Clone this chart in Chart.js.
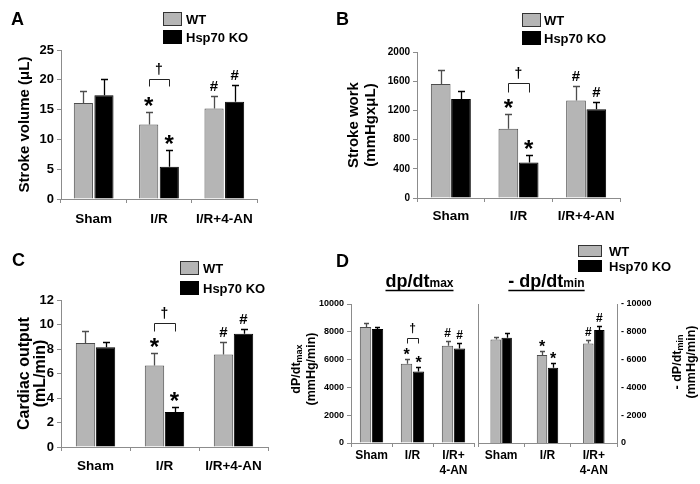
<!DOCTYPE html>
<html><head><meta charset="utf-8">
<script src="https://cdn.jsdelivr.net/npm/chart.js@4.4.1/dist/chart.umd.min.js"></script>
<style>
html,body{margin:0;padding:0;background:#fff;}
#wrap{position:relative;width:700px;height:484px;overflow:hidden;background:#fff;}
canvas{position:absolute;left:0;top:0;}
</style></head><body>
<div id="wrap">
<canvas id="cA" width="700" height="484"></canvas>
<canvas id="cB" width="700" height="484"></canvas>
<canvas id="cC" width="700" height="484"></canvas>
<canvas id="cD1" width="700" height="484"></canvas>
<canvas id="cD2" width="700" height="484"></canvas>
</div>
<script>
// ---------- DATA ----------
const CATEGORIES = ['Sham', 'I/R', 'I/R+4-AN'];
const CATEGORIES_D = ['Sham', 'I/R', ['I/R+', '4-AN']];
const SERIES = ['WT', 'Hsp70 KO'];

// A: Stroke volume (uL)
const A_WT = [16.1, 12.5, 15.2];
const A_WT_ERR = [2.0, 2.1, 2.0];
const A_KO = [17.4, 5.4, 16.3];
const A_KO_ERR = [2.7, 2.8, 2.9];
const A_TICKS = [0, 5, 10, 15, 20, 25];

// B: Stroke work (mmHg x uL)
const B_WT = [1560, 950, 1335];
const B_WT_ERR = [195, 200, 205];
const B_KO = [1355, 485, 1215];
const B_KO_ERR = [105, 110, 100];
const B_TICKS = [0, 400, 800, 1200, 1600, 2000];

// C: Cardiac output (mL/min)
const C_WT = [8.5, 6.65, 7.55];
const C_WT_ERR = [1.0, 1.05, 1.0];
const C_KO = [8.15, 2.85, 9.25];
const C_KO_ERR = [0.4, 0.45, 0.4];
const C_TICKS = [0, 2, 4, 6, 8, 10, 12];

// D: dP/dt max and -dP/dt min (mmHg/min)
const DMAX_WT = [8350, 5700, 7000];
const DMAX_WT_ERR = [280, 330, 320];
const DMAX_KO = [8200, 5150, 6800];
const DMAX_KO_ERR = [150, 350, 380];
const DMIN_WT = [7450, 6330, 7150];
const DMIN_WT_ERR = [200, 300, 280];
const DMIN_KO = [7580, 5420, 8130];
const DMIN_KO_ERR = [330, 360, 260];
const D_TICKS = [0, 2000, 4000, 6000, 8000, 10000];
const D_RIGHT_TICK_LABELS = ['0', '- 2000', '- 4000', '- 6000', '- 8000', '- 10000'];

// significance marks
const MARKS_WT = ['', '*', '#'];
const MARKS_KO = ['', '*', '#'];

// ---------- STYLE ----------
const FONT = '"Liberation Sans", Arial, Helvetica, sans-serif';
const WT_FILL = '#b5b5b5', WT_EDGE = '#4d4d4d', KO_FILL = '#000000';
const AXIS = '#8c8c8c';
const f = (s) => `bold ${s}px ${FONT}`;

function drawParts(ctx, parts, x, y, rot, base) {
  ctx.save();
  ctx.translate(x, y);
  ctx.rotate(rot);
  let total = 0;
  parts.forEach(p => { ctx.font = f(p.size); p.w = ctx.measureText(p.t).width; total += p.w; });
  let cx = -total / 2;
  ctx.textAlign = 'left';
  ctx.textBaseline = base || 'middle';
  ctx.fillStyle = '#000';
  parts.forEach(p => { ctx.font = f(p.size); ctx.fillText(p.t, cx, p.dy || 0); cx += p.w; });
  ctx.restore();
  return total;
}

function decoPlugin(o) {
  return {
    id: 'deco',
    afterDatasetsDraw(chart) {
      const ctx = chart.ctx;
      const ys = chart.scales.y;
      const errs = [o.wtErr, o.koErr];
      const caps = [[], []];
      ctx.save();
      errs.forEach((errArr, di) => {
        const meta = chart.getDatasetMeta(di);
        meta.data.forEach((bar, i) => {
          const v = chart.data.datasets[di].data[i];
          const yTop = ys.getPixelForValue(v + errArr[i]);
          caps[di][i] = {x: bar.x, y: yTop};
          const x = Math.round(bar.x) + 0.5;
          ctx.strokeStyle = di === 0 ? WT_EDGE : '#000';
          ctx.lineWidth = 1.3;
          ctx.beginPath();
          ctx.moveTo(x, bar.y);
          ctx.lineTo(x, Math.round(yTop) + 0.5);
          ctx.moveTo(x - o.capW, Math.round(yTop) + 0.5);
          ctx.lineTo(x + o.capW, Math.round(yTop) + 0.5);
          ctx.stroke();
        });
      });
      // significance marks
      ctx.fillStyle = '#000';
      ctx.textAlign = 'center';
      ctx.textBaseline = 'alphabetic';
      [MARKS_WT, MARKS_KO].forEach((marks, di) => {
        marks.forEach((m, i) => {
          if (!m) return;
          const c = caps[di][i];
          if (m === '*') { ctx.font = f(o.starSize); ctx.fillText('*', c.x, c.y + o.starOff); }
          else { ctx.font = f(o.hashSize); ctx.fillText('#', c.x, c.y - o.hashOff); }
        });
      });
      // bracket with dagger
      if (o.bracket) {
        const a = caps[0][1], b = caps[1][1];
        const by = Math.round(a.y - o.bracketGap) + 0.5;
        ctx.strokeStyle = '#222';
        ctx.lineWidth = 1;
        ctx.beginPath();
        ctx.moveTo(Math.round(a.x) + 0.5, by + o.bracketTick);
        ctx.lineTo(Math.round(a.x) + 0.5, by);
        ctx.lineTo(Math.round(b.x) + 0.5, by);
        ctx.lineTo(Math.round(b.x) + 0.5, by + o.bracketTick);
        ctx.stroke();
        ctx.font = f(o.daggerSize);
        ctx.fillText('\u2020', (a.x + b.x) / 2, by - o.daggerOff);
      }
      // legend
      if (o.legend) {
        const L = o.legend;
        chart.data.datasets.forEach((ds, di) => {
          const y0 = L.y + di * L.step;
          ctx.fillStyle = ds.backgroundColor;
          ctx.fillRect(L.x, y0, L.w, L.h);
          ctx.strokeStyle = di === 0 ? '#333' : '#000';
          ctx.lineWidth = 1;
          ctx.strokeRect(L.x + 0.5, y0 + 0.5, L.w - 1, L.h - 1);
          ctx.fillStyle = '#000';
          ctx.font = f(L.font);
          ctx.textAlign = 'left';
          ctx.textBaseline = 'middle';
          ctx.fillText(ds.label, L.tx, y0 + L.h / 2 + 1);
        });
      }
      // panel letter
      if (o.letter) {
        ctx.fillStyle = '#000';
        ctx.font = f(18);
        ctx.textAlign = 'left';
        ctx.textBaseline = 'middle';
        ctx.fillText(o.letter.t, o.letter.x, o.letter.y);
      }
      if (o.extra) o.extra(ctx, chart);
      ctx.restore();
    }
  };
}

function makePanel(id, o) {
  const ticksArr = o.ticks;
  const datasets = [
    {label: SERIES[0], data: o.wt, backgroundColor: WT_FILL, borderColor: WT_EDGE, borderWidth: 1,
     categoryPercentage: o.cat, barPercentage: o.bar, yAxisID: 'y'},
    {label: SERIES[1], data: o.ko, backgroundColor: KO_FILL, borderColor: '#000', borderWidth: 1,
     categoryPercentage: o.cat, barPercentage: o.bar, yAxisID: 'y'}
  ];
  const right = o.yPos === 'right';
  const scales = {
    x: {
      type: 'category',
      offset: true,
      grid: {display: true, drawOnChartArea: false, offset: true, tickLength: 4, color: AXIS, lineWidth: 1},
      border: {display: true, color: AXIS, width: 1},
      ticks: {font: {family: FONT, size: o.xFont, weight: 'bold', lineHeight: o.xLH || 1.2}, color: '#000',
              padding: o.xPad, maxRotation: 0, minRotation: 0, autoSkip: false},
      afterFit: s => { s.height = 484 - o.plot.b; }
    },
    y: {
      position: right ? 'right' : 'left',
      min: ticksArr[0], max: ticksArr[ticksArr.length - 1],
      afterBuildTicks: s => { s.ticks = ticksArr.map(v => ({value: v})); },
      ticks: {font: {family: FONT, size: o.yFont, weight: 'bold'}, color: '#000', padding: right ? 4 : 3,
              callback: (v) => o.tickLabels ? o.tickLabels[ticksArr.indexOf(v)] : String(v)},
      grid: right ? {display: false, drawTicks: false, tickLength: 0, drawOnChartArea: false}
                  : {display: true, drawOnChartArea: false, tickLength: 4, color: AXIS},
      border: {display: true, color: AXIS, width: 1},
      title: o.title ? {display: true, text: o.title, color: '#000',
              font: {family: FONT, size: o.titleSize, weight: 'bold', lineHeight: o.titleLH},
              padding: {top: o.titlePad, bottom: 0}} : {display: false},
      afterFit: s => { s.width = o.yW; }
    }
  };
  if (right) {
    scales.yl = {
      position: 'left', min: 0, max: 1, display: true,
      ticks: {display: false}, grid: {display: false, drawTicks: false},
      border: {display: true, color: AXIS, width: 1},
      afterFit: s => { s.width = 0; }
    };
  }
  const padding = right
    ? {left: o.plot.l, right: 700 - o.plot.r - o.yW, top: o.plot.t, bottom: 0}
    : {left: o.plot.l - o.yW, right: 700 - o.plot.r, top: o.plot.t, bottom: 0};
  return new Chart(document.getElementById(id), {
    type: 'bar',
    data: {labels: o.labels, datasets},
    options: {
      responsive: false, animation: false, devicePixelRatio: 1, events: [],
      layout: {padding},
      plugins: {legend: {display: false}, tooltip: {enabled: false}},
      scales
    },
    plugins: [decoPlugin(o)]
  });
}

const bigMarks = {starSize: 24, starOff: 2, hashSize: 15, hashOff: 5, daggerSize: 14, daggerOff: 6, capW: 3.5};

makePanel('cA', Object.assign({}, bigMarks, {
  labels: CATEGORIES, wt: A_WT, ko: A_KO, wtErr: A_WT_ERR, koErr: A_KO_ERR, ticks: A_TICKS,
  plot: {l: 61, t: 50, r: 257, b: 199}, yW: 61, yFont: 13, xFont: 13.5, xPad: 8,
  cat: 0.63, bar: 0.93,
  title: 'Stroke volume (\u03bcL)', titleSize: 15, titleLH: 1, titlePad: 17,
  bracket: true, bracketGap: 33, bracketTick: 7,
  legend: {x: 163, y: 12, step: 18, w: 19, h: 14, tx: 186, font: 13},
  letter: {t: 'A', x: 11, y: 20}
}));

makePanel('cB', Object.assign({}, bigMarks, {
  labels: CATEGORIES, wt: B_WT, ko: B_KO, wtErr: B_WT_ERR, koErr: B_KO_ERR, ticks: B_TICKS,
  plot: {l: 417, t: 52, r: 620, b: 198}, yW: 87, yFont: 10, xFont: 13.5, xPad: 6,
  cat: 0.6, bar: 0.97,
  title: ['Stroke work', '(mmHgx\u03bcL)'], titleSize: 15, titleLH: 1.15, titlePad: 15,
  bracket: true, bracketGap: 31, bracketTick: 9,
  legend: {x: 522, y: 13, step: 18, w: 19, h: 14, tx: 544, font: 13},
  letter: {t: 'B', x: 336, y: 20}
}));

makePanel('cC', Object.assign({}, bigMarks, {
  labels: CATEGORIES, wt: C_WT, ko: C_KO, wtErr: C_WT_ERR, koErr: C_KO_ERR, ticks: C_TICKS,
  plot: {l: 61, t: 300, r: 268, b: 447}, yW: 61, yFont: 13, xFont: 13.5, xPad: 7,
  cat: 0.58, bar: 0.97,
  title: ['Cardiac output', '(mL/min)'], titleSize: 16, titleLH: 1, titlePad: 17,
  bracket: true, bracketGap: 30, bracketTick: 8,
  legend: {x: 180, y: 261, step: 20, w: 19, h: 14, tx: 203, font: 13},
  letter: {t: 'C', x: 12, y: 261}
}));

const smallMarks = {starSize: 16, starOff: 1, hashSize: 12, hashOff: 4, daggerSize: 12, daggerOff: 7, capW: 2.5};

makePanel('cD1', Object.assign({}, smallMarks, {
  labels: CATEGORIES_D, wt: DMAX_WT, ko: DMAX_KO, wtErr: DMAX_WT_ERR, koErr: DMAX_KO_ERR, ticks: D_TICKS,
  plot: {l: 351, t: 304, r: 474, b: 443}, yW: 351, yFont: 9, xFont: 12, xLH: 1.25, xPad: 1,
  cat: 0.585, bar: 0.95,
  bracket: true, bracketGap: 21, bracketTick: 5,
  legend: {x: 578, y: 245, step: 15, w: 24, h: 12, tx: 609, font: 13},
  letter: {t: 'D', x: 336, y: 262},
  extra: (ctx) => {
    // panel sub-titles
    const t1 = drawParts(ctx, [{t: 'dp/dt', size: 18}, {t: 'max', size: 12}], 419.5, 287, 0, 'alphabetic');
    const t2 = drawParts(ctx, [{t: '- dp/dt', size: 18}, {t: 'min', size: 12}], 546.5, 287, 0, 'alphabetic');
    ctx.strokeStyle = '#000'; ctx.lineWidth = 1.5;
    ctx.beginPath();
    ctx.moveTo(419.5 - t1 / 2, 290.5); ctx.lineTo(419.5 + t1 / 2, 290.5);
    ctx.moveTo(546.5 - t2 / 2, 290.5); ctx.lineTo(546.5 + t2 / 2, 290.5);
    ctx.stroke();
    // left axis title
    drawParts(ctx, [{t: 'dP/dt', size: 12.5}, {t: 'max', size: 9, dy: 3}], 297, 369, -Math.PI / 2);
    drawParts(ctx, [{t: '(mmHg/min)', size: 12.5}], 312, 369, -Math.PI / 2);
  }
}));

makePanel('cD2', Object.assign({}, smallMarks, {
  labels: CATEGORIES_D, wt: DMIN_WT, ko: DMIN_KO, wtErr: DMIN_WT_ERR, koErr: DMIN_KO_ERR, ticks: D_TICKS,
  tickLabels: D_RIGHT_TICK_LABELS, yPos: 'right',
  plot: {l: 478, t: 304, r: 617, b: 443}, yW: 45, yFont: 9, xFont: 12, xLH: 1.25, xPad: 1,
  cat: 0.475, bar: 0.95,
  bracket: false,
  extra: (ctx) => {
    drawParts(ctx, [{t: '- dP/dt', size: 12.5}, {t: 'min', size: 9, dy: 3}], 678, 362, -Math.PI / 2);
    drawParts(ctx, [{t: '(mmHg/min)', size: 12.5}], 692, 362, -Math.PI / 2);
  }
}));
</script>
</body></html>
